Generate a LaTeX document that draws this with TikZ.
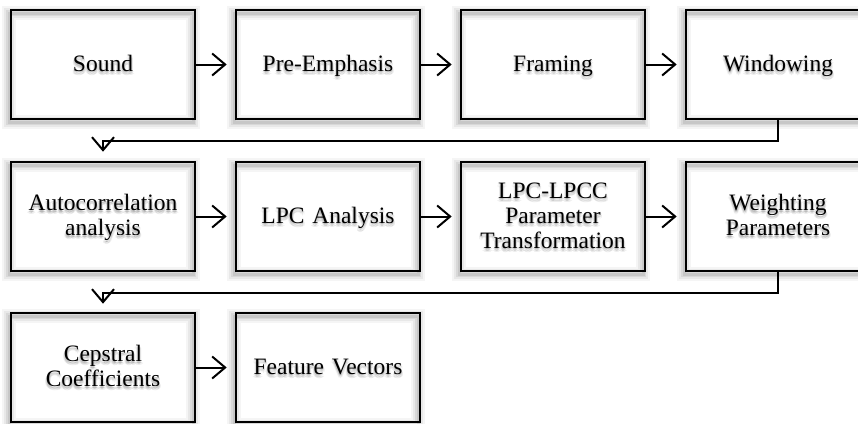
\documentclass[tikz,border=0pt]{standalone}
\usepackage{fontspec}
\setmainfont{Liberation Serif}
\usetikzlibrary{arrows.meta}
\tikzset{
  stagebox/.style={draw=black, line width=2.6pt, minimum width=184pt,
    minimum height=109pt, inner sep=0pt},
  stagetext/.style={align=center, inner sep=0pt, text width=182pt,
    font=\fontsize{23.5}{25}\selectfont,
    execute at begin node={\strut}, execute at end node={\strut}},
  flow/.style={draw=black, line width=2pt,
    -{Straight Barb[length=13pt,width=22pt,line width=2pt]}},
}
% #1 name, #2 x, #3 y (centre), #4 label
\newcommand\stage[4]{%
  % soft shadow of the frame
  \foreach \w/\o in {14/0.04, 10/0.055, 6/0.07, 3/0.08}{%
    \draw[line width=\w pt, black, opacity=\o]
      (#2-92-2,#3-54.5+3) rectangle (#2+92-2,#3+54.5+3);
  }%
  % soft shadow of the label
  \foreach \dx/\dy in {0/2, 1.5/3, -1.5/3, 0/4, 1/1.5, -1/1.5}{%
    \node[stagetext, text=black, text opacity=0.07] at (#2+\dx,#3+1.5+\dy) {#4};
  }%
  \node[stagebox] (#1) at (#2,#3) {};
  \node[stagetext] at (#2,#3+1.5) {#4};
}
\begin{document}
\begin{tikzpicture}[x=1pt,y=-1pt]
  \useasboundingbox (0,0) rectangle (858,423);
  % first row
  \stage{snd}{103}{64.5}{Sound}
  \stage{pre}{328}{64.5}{Pre-Emphasis}
  \stage{frm}{553}{64.5}{Framing}
  \stage{win}{778}{64.5}{Windowing}
  % second row
  \stage{acr}{103}{216.5}{Autocorrelation\\analysis}
  \stage{lpc}{328}{216.5}{LPC Analysis}
  \stage{trf}{553}{216.5}{LPC-LPCC\\Parameter\\Transformation}
  \stage{wgt}{778}{216.5}{Weighting\\Parameters}
  % third row
  \stage{cep}{103}{367.5}{Cepstral\\Coefficients}
  \stage{fv}{328}{367.5}{Feature Vectors}
  % connectors
  \draw[flow, shorten >=8pt] (snd.east) -- (pre.west);
  \draw[flow, shorten >=8pt] (pre.east) -- (frm.west);
  \draw[flow, shorten >=8pt] (frm.east) -- (win.west);
  \draw[flow, shorten >=9pt] (win.south) -- ++(0,21) -| (acr.north);
  \draw[flow, shorten >=8pt] (acr.east) -- (lpc.west);
  \draw[flow, shorten >=8pt] (lpc.east) -- (trf.west);
  \draw[flow, shorten >=8pt] (trf.east) -- (wgt.west);
  \draw[flow, shorten >=8pt] (wgt.south) -- ++(0,21) -| (cep.north);
  \draw[flow, shorten >=8pt] (cep.east) -- (fv.west);
\end{tikzpicture}
\end{document}
